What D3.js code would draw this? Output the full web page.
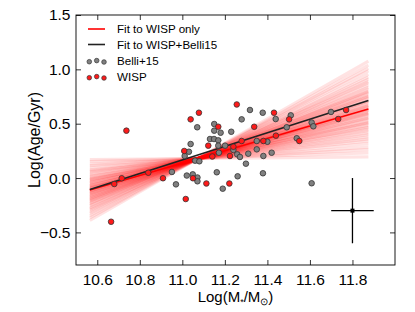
<!DOCTYPE html>
<html><head><meta charset="utf-8">
<script src="https://cdn.jsdelivr.net/npm/d3@7"></script>
<style>
html,body{margin:0;padding:0;background:#fff;}
svg{display:block;font-family:"Liberation Sans",Arial,Helvetica,sans-serif;}
</style></head>
<body><svg id="c" width="415" height="312"></svg>
<script>
// ---- data ----
const wispMass = [10.665,10.680,10.715,10.737,10.840,10.909,11.009,11.016,11.039,11.050,11.078,11.113,11.122,11.141,11.169,11.221,11.224,11.240,11.256,11.279,11.338,11.381,11.431,11.440,11.502,11.550,11.733,11.770];
const wispAge  = [-0.402,-0.055,-0.002,0.436,0.049,-0.002,0.249,-0.193,0.540,-0.002,0.601,-0.050,0.298,0.198,0.472,-0.050,0.203,0.288,0.677,0.341,0.472,0.341,0.601,0.390,0.540,0.341,0.543,0.626];
const belliMass = [10.951,10.970,11.011,11.021,11.031,11.039,11.049,11.060,11.070,11.071,11.071,11.080,11.130,11.149,11.150,11.150,11.162,11.169,11.169,11.172,11.180,11.190,11.201,11.230,11.240,11.258,11.260,11.271,11.279,11.299,11.310,11.318,11.350,11.350,11.378,11.379,11.381,11.400,11.420,11.439,11.491,11.510,11.538,11.608,11.616,11.608,11.699];
const belliAge  = [0.056,-0.058,0.203,0.023,0.242,0.313,0.034,0.160,0.467,0.005,-0.030,0.154,0.359,0.359,0.497,0.436,0.053,0.347,0.298,0.233,0.417,-0.098,0.298,0.426,0.258,0.218,0.016,0.194,0.540,0.132,0.224,0.626,0.341,0.264,0.601,0.044,0.203,0.334,0.233,0.543,0.467,0.577,0.366,0.511,0.476,-0.048,0.608];
// fit line endpoints
const fitMass = [10.565, 11.875];
const fitWisp = [-0.11, 0.635];
const fitAll  = [-0.105, 0.713];
// posterior sample lines (age at fitMass[0], fitMass[1])
const fanLeft  = [0.170,0.152,0.128,0.115,0.093,0.075,0.065,0.056,0.041,0.030,0.016,0.009,-0.002,-0.012,-0.016,-0.020,-0.030,-0.040,-0.044,-0.048,-0.058,-0.068,-0.072,-0.076,-0.082,-0.092,-0.093,-0.097,-0.103,-0.110,-0.116,-0.121,-0.121,-0.131,-0.138,-0.142,-0.146,-0.156,-0.160,-0.170,-0.174,-0.184,-0.188,-0.198,-0.202,-0.212,-0.216,-0.229,-0.236,-0.250,-0.258,-0.275,-0.285,-0.296,-0.313,-0.328,-0.348,-0.366,-0.390];
const fanRight = [0.195,0.232,0.261,0.285,0.316,0.342,0.360,0.378,0.399,0.415,0.436,0.448,0.465,0.472,0.487,0.502,0.509,0.516,0.531,0.546,0.553,0.560,0.575,0.590,0.591,0.598,0.608,0.623,0.624,0.635,0.637,0.652,0.661,0.668,0.670,0.685,0.700,0.707,0.714,0.729,0.744,0.751,0.758,0.773,0.788,0.795,0.802,0.822,0.835,0.855,0.876,0.888,0.910,0.928,0.954,0.986,1.009,1.038,1.075];
// typical error bar
const errPoint = {mass: 11.8, age: -0.3, xerr: 0.1, yerr: 0.3};
const xTicks = [10.6,10.8,11.0,11.2,11.4,11.6,11.8];
const xTickLabels = ["10.6","10.8","11.0","11.2","11.4","11.6","11.8"];
const yTicks = [-0.5,0.0,0.5,1.0,1.5];
const yTickLabels = ["\u22120.5","0.0","0.5","1.0","1.5"];
const legendLabels = ["Fit to WISP only","Fit to WISP+Belli15","Belli+15","WISP"];

// ---- chart ----
const svg = d3.select("#c");
const L=76,R=395,T=15,B=265;
const x = d3.scaleLinear().domain([10.5,12.0]).range([L,R]);
const y = d3.scaleLinear().domain([-0.8,1.5]).range([B,T]);
const line = d3.line().x(d=>x(d[0])).y(d=>y(d[1]));

const fan = svg.append("g");
fanLeft.forEach((v,i)=>{
  fan.append("path").attr("d", line([[fitMass[0],v],[fitMass[1],fanRight[i]]]))
    .attr("stroke","#ff0000").attr("stroke-opacity",0.11).attr("stroke-width",3.2).attr("fill","none");
});
svg.append("path").attr("d", line(fitMass.map((m,i)=>[m,fitWisp[i]])))
  .attr("stroke","#ff0000").attr("stroke-width",1.6).attr("fill","none");
svg.append("path").attr("d", line(fitMass.map((m,i)=>[m,fitAll[i]])))
  .attr("stroke","#222").attr("stroke-width",1.6).attr("fill","none");

svg.append("g").selectAll("circle").data(belliMass.map((m,i)=>[m,belliAge[i]])).join("circle")
  .attr("cx",d=>x(d[0])).attr("cy",d=>y(d[1])).attr("r",2.8)
  .attr("fill","#808080").attr("stroke","#333").attr("stroke-width",0.8);
svg.append("g").selectAll("circle").data(wispMass.map((m,i)=>[m,wispAge[i]])).join("circle")
  .attr("cx",d=>x(d[0])).attr("cy",d=>y(d[1])).attr("r",2.8)
  .attr("fill","#ff1a1a").attr("stroke","#333").attr("stroke-width",0.8);

// error bar
const eb = svg.append("g").attr("stroke","#000").attr("stroke-width",1.3);
eb.append("line").attr("x1",x(errPoint.mass-errPoint.xerr)).attr("x2",x(errPoint.mass+errPoint.xerr))
  .attr("y1",y(errPoint.age)).attr("y2",y(errPoint.age));
eb.append("line").attr("x1",x(errPoint.mass)).attr("x2",x(errPoint.mass))
  .attr("y1",y(errPoint.age-errPoint.yerr)).attr("y2",y(errPoint.age+errPoint.yerr));
svg.append("rect").attr("x",x(errPoint.mass)-2).attr("y",y(errPoint.age)-2).attr("width",4).attr("height",4).attr("fill","#000");

// axes
function styleAxis(g){ g.select(".domain").remove(); g.selectAll("line").attr("stroke","#000").attr("stroke-width",0.8); }
const fs = "15.5px";
svg.append("g").attr("transform",`translate(0,${B})`)
  .call(d3.axisBottom(x).tickValues(xTicks).tickFormat((d,i)=>xTickLabels[i]).tickSizeInner(-5).tickSizeOuter(0).tickPadding(9))
  .call(styleAxis).call(g=>g.selectAll("text").attr("font-size",fs).attr("fill","#000").attr("font-family",null));
svg.append("g").attr("transform",`translate(0,${T})`)
  .call(d3.axisTop(x).tickValues(xTicks).tickFormat("").tickSizeInner(-5).tickSizeOuter(0)).call(styleAxis);
svg.append("g").attr("transform",`translate(${L},0)`)
  .call(d3.axisLeft(y).tickValues(yTicks).tickFormat((d,i)=>yTickLabels[i]).tickSizeInner(-5).tickSizeOuter(0).tickPadding(5.5))
  .call(styleAxis).call(g=>g.selectAll("text").attr("font-size",fs).attr("fill","#000").attr("font-family",null));
svg.append("g").attr("transform",`translate(${R},0)`)
  .call(d3.axisRight(y).tickValues(yTicks).tickFormat("").tickSizeInner(-5).tickSizeOuter(0)).call(styleAxis);
svg.append("rect").attr("x",L).attr("y",T).attr("width",R-L).attr("height",B-T)
  .attr("fill","none").attr("stroke","#000").attr("stroke-width",0.9);

// axis titles
const xt = svg.append("text").attr("x",(L+R)/2).attr("y",302).attr("text-anchor","middle").attr("font-size","15px");
xt.append("tspan").text("Log(M");
xt.append("tspan").attr("font-size","9px").attr("dy",3).text("*");
xt.append("tspan").attr("dy",-3).text("/M");
xt.append("tspan").attr("font-size","10px").attr("dy",3).text("\u2299");
xt.append("tspan").attr("dy",-3).text(")");
svg.append("text").attr("transform",`translate(40,${(T+B)/2}) rotate(-90)`).attr("text-anchor","middle")
  .attr("font-size","16px").text("Log(Age/Gyr)");

// legend
const lg = svg.append("g").attr("font-size","11.6px");
const rowY = [29,44.5,61,77];
lg.append("line").attr("x1",88).attr("x2",105).attr("y1",rowY[0]).attr("y2",rowY[0]).attr("stroke","#ff0000").attr("stroke-width",1.6);
lg.append("line").attr("x1",88).attr("x2",105).attr("y1",rowY[1]).attr("y2",rowY[1]).attr("stroke","#222").attr("stroke-width",1.6);
const dotDx=[89.3,96.7,104], dotDy=[0.7,-0.4,1];
[["#808080",2],["#ff1a1a",3]].forEach(([c,r])=>{
  dotDx.forEach((dx,k)=>lg.append("circle").attr("cx",dx).attr("cy",rowY[r]+dotDy[k]).attr("r",2.3)
    .attr("fill",c).attr("stroke","#333").attr("stroke-width",0.7));
});
legendLabels.forEach((t,i)=>lg.append("text").attr("x",117).attr("y",rowY[i]).attr("dy","0.36em").text(t));
</script></body></html>
